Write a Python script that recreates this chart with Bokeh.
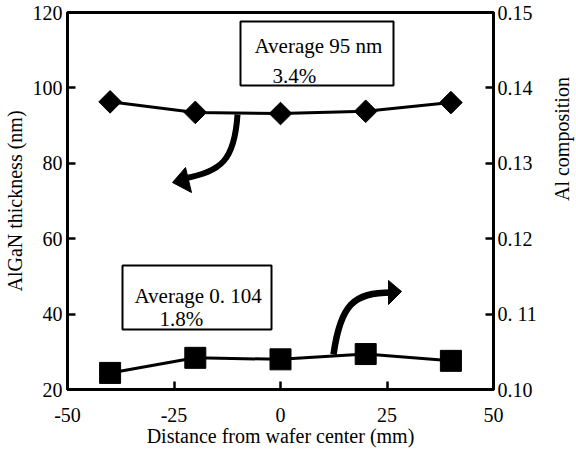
import math
from bokeh.plotting import figure
from bokeh.models import Range1d, LinearAxis, FixedTicker, Label, BoxAnnotation
from bokeh.embed import file_html
from bokeh.resources import INLINE

# ---- data ----
distance_mm = [-40, -20, 0, 20, 40]
thickness_nm = [96.3, 93.5, 93.2, 93.8, 96.1]
al_composition = [0.1022, 0.1042, 0.1040, 0.1047, 0.1038]

x_ticks = [-50, -25, 0, 25, 50]
x_tick_labels = ["-50", "-25", "0", "25", "50"]
y_ticks = [20, 40, 60, 80, 100, 120]
comp_ticks = [0.10, 0.11, 0.12, 0.13, 0.14, 0.15]
comp_tick_labels = ["0.10", "0. 11", "0.12", "0.13", "0.14", "0.15"]

box1_lines = ["Average 95 nm", "3.4%"]
box2_lines = ["Average 0. 104", "1.8%"]

FONT = "Liberation Serif"

FL, FR, FT, FB = 70, 496, 20, 397
def X(px):
    return -50 + (px - FL) * 100.0 / (FR - FL)
def Y(py):
    return 120 - (py - FT) * 100.0 / (FB - FT)

p = figure(frame_width=FR - FL, frame_height=FB - FT,
           min_border_left=62, min_border_right=72, min_border_top=12, min_border_bottom=51,
           x_range=Range1d(-50, 50), y_range=Range1d(20, 120),
           output_backend="svg", toolbar_location=None,
           background_fill_color="white", border_fill_color="white")
p.extra_y_ranges = {"comp": Range1d(0.10, 0.15)}
p.grid.visible = False
p.outline_line_color = "black"
p.outline_line_width = 3

right_axis = LinearAxis(y_range_name="comp")
p.add_layout(right_axis, "right")

for ax in [p.xaxis[0], p.yaxis[0], right_axis]:
    ax.axis_line_width = 3
    ax.axis_line_color = "black"
    ax.major_tick_in = 8
    ax.major_tick_out = 0
    ax.major_tick_line_width = 2.5
    ax.minor_tick_line_color = None
    ax.major_label_text_font = FONT
    ax.major_label_text_font_size = "20px"
    ax.major_label_text_color = "black"
    ax.axis_label_text_font = FONT
    ax.axis_label_text_font_size = "20px"
    ax.axis_label_text_font_style = "normal"
    ax.axis_label_text_color = "black"

p.xaxis[0].ticker = FixedTicker(ticks=x_ticks)
p.xaxis[0].major_label_overrides = {t: s for t, s in zip(x_ticks, x_tick_labels)}
p.xaxis[0].axis_label = "Distance from wafer center (mm)"
p.xaxis[0].major_label_standoff = 18
p.xaxis[0].axis_label_standoff = 0

p.yaxis[0].ticker = FixedTicker(ticks=y_ticks)
p.yaxis[0].axis_label = "AlGaN thickness (nm)"
p.yaxis[0].major_label_standoff = 5
p.yaxis[0].axis_label_standoff = 4

right_axis.ticker = FixedTicker(ticks=comp_ticks)
right_axis.major_label_overrides = {t: s for t, s in zip(comp_ticks, comp_tick_labels)}
right_axis.axis_label = "Al  composition"
right_axis.major_label_standoff = 4
right_axis.axis_label_standoff = 22
right_axis.axis_label_orientation = math.pi / 2

p.line(distance_mm, thickness_nm, line_color="black", line_width=3)
p.scatter(distance_mm, thickness_nm, marker="square", angle=math.pi / 4, size=16,
          fill_color="black", line_color="black")
p.line(distance_mm, al_composition, line_color="black", line_width=3, y_range_name="comp")
p.scatter(distance_mm, al_composition, marker="square", size=21,
          fill_color="black", line_color="black", y_range_name="comp")

for (l, r, t, b) in [(243, 396, 29, 93), (125, 274, 273, 337)]:
    p.add_layout(BoxAnnotation(left=X(l), right=X(r), top=Y(t), bottom=Y(b),
                               fill_color="white", fill_alpha=1.0,
                               line_color="black", line_width=2, line_alpha=1.0))

def add_text(txt, px, py, size="21px"):
    p.add_layout(Label(x=X(px), y=Y(py), text=txt, text_font=FONT, text_font_size=size,
                       text_color="black", text_baseline="alphabetic", text_align="left"))

add_text(box1_lines[0], 257, 53)
add_text(box1_lines[1], 275, 83)
add_text(box2_lines[0], 137, 303)
add_text(box2_lines[1], 162, 326)

p.bezier(x0=[X(240)], y0=[Y(122)], x1=[X(186)], y1=[Y(186)],
         cx0=[X(237)], cy0=[Y(168)], cx1=[X(224)], cy1=[Y(179)],
         line_color="black", line_width=6)
p.patch([X(175), X(188), X(194)], [Y(190), Y(175), Y(200)], fill_color="black", line_color="black")

p.bezier(x0=[X(336)], y0=[Y(362)], x1=[X(394)], y1=[Y(300)],
         cx0=[X(343)], cy0=[Y(312)], cx1=[X(356)], cy1=[Y(300)],
         line_color="black", line_width=6.5)
p.patch([X(404), X(391), X(391)], [Y(299), Y(288), Y(312)], fill_color="black", line_color="black")

open("out.html", "w").write(file_html(p, INLINE))
